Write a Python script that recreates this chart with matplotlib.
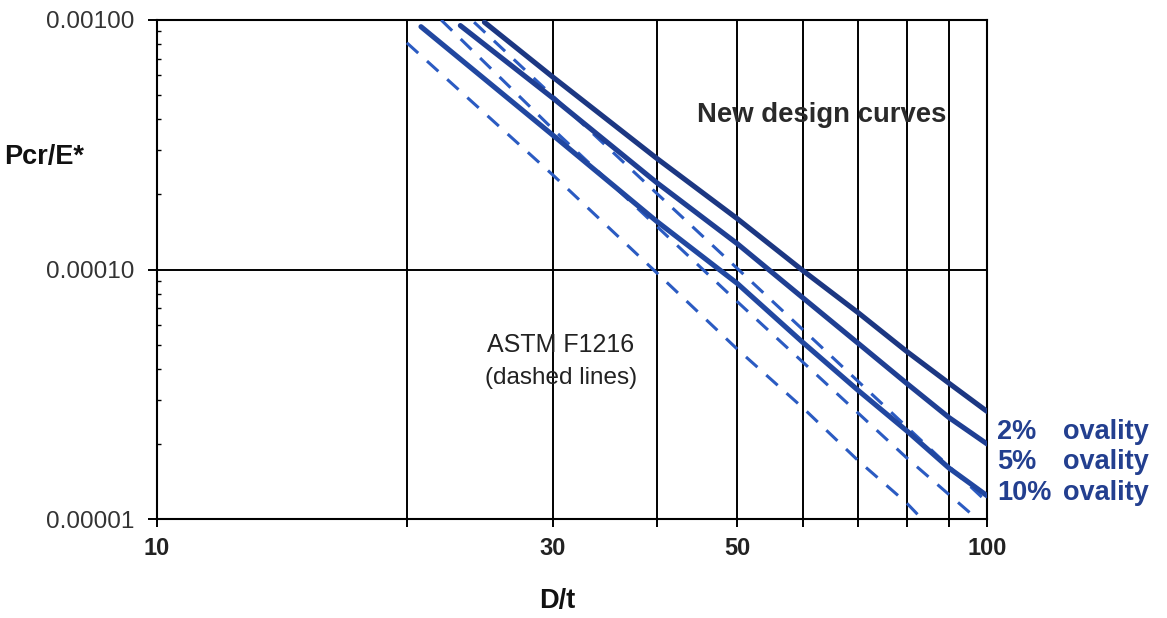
import matplotlib
matplotlib.use("Agg")
import matplotlib.pyplot as plt
from matplotlib.ticker import FixedLocator, FixedFormatter, NullLocator, LogLocator, NullFormatter

plt.rcParams['font.family'] = ['Liberation Sans', 'DejaVu Sans']

# New design curves (solid)
new_2_dt = [24.8, 30, 40, 50, 60, 70, 80, 90, 100]
new_2_p = [9.8e-4, 5.9e-4, 2.79e-4, 1.60e-4, 9.9e-5, 6.7e-5, 4.7e-5, 3.5e-5, 2.7e-5]

new_5_dt = [23.2, 30, 40, 50, 60, 70, 80, 90, 100]
new_5_p = [9.5e-4, 4.86e-4, 2.23e-4, 1.27e-4, 7.7e-5, 5.05e-5, 3.5e-5, 2.55e-5, 2.0e-5]

new_10_dt = [20.8, 30, 40, 50, 60, 70, 80, 90, 100]
new_10_p = [9.4e-4, 3.45e-4, 1.56e-4, 8.8e-5, 5.1e-5, 3.27e-5, 2.26e-5, 1.6e-5, 1.24e-5]

# ASTM F1216 curves (dashed)
astm_2_dt = [24.1, 40, 60, 100]
astm_2_p = [9.8e-4, 2.02e-4, 5.74e-5, 1.17e-5]

astm_5_dt = [22.0, 30, 50, 80, 97.3]
astm_5_p = [1.0e-3, 3.65e-4, 7.44e-5, 1.76e-5, 1.0e-5]

astm_10_dt = [20, 30, 40, 50, 60, 70, 80, 83.5]
astm_10_p = [8.1e-4, 2.39e-4, 9.7e-5, 4.8e-5, 2.79e-5, 1.71e-5, 1.16e-5, 1.0e-5]

x_ticks = [10, 20, 30, 40, 50, 60, 70, 80, 90, 100]
x_tick_labels = ["10", "", "30", "", "50", "", "", "", "", "100"]
y_ticks = [1e-5, 1e-4, 1e-3]
y_tick_labels = ["0.00001", "0.00010", "0.00100"]

W, H = 1167, 618
fig = plt.figure(figsize=(W / 100, H / 100), dpi=100)
ax = fig.add_axes([157 / W, 1 - 519 / H, (987 - 157) / W, (519 - 20) / H])

ax.set_xscale('log')
ax.set_yscale('log')
ax.set_xlim(10, 100)
ax.set_ylim(1e-5, 1e-3)

solid_dark = '#1c3782'
solid_mid = '#1f3f93'
solid_c = '#2147a0'
dash_col = '#2b5bc2'

ax.plot(new_2_dt, new_2_p, color=solid_dark, lw=3.7, solid_capstyle='round', zorder=4)
ax.plot(new_5_dt, new_5_p, color=solid_mid, lw=3.7, solid_capstyle='round', zorder=4)
ax.plot(new_10_dt, new_10_p, color=solid_c, lw=3.7, solid_capstyle='round', zorder=4)

dash = (0, (5.0, 3.9))
for dt, p in [(astm_2_dt, astm_2_p), (astm_5_dt, astm_5_p), (astm_10_dt, astm_10_p)]:
    ax.plot(dt, p, color=dash_col, lw=2.2, linestyle=dash, zorder=3)

# Axes, grid and ticks
ax.xaxis.set_major_locator(FixedLocator(x_ticks))
ax.xaxis.set_major_formatter(FixedFormatter(x_tick_labels))
ax.xaxis.set_minor_locator(NullLocator())
ax.yaxis.set_major_locator(FixedLocator(y_ticks))
ax.yaxis.set_major_formatter(FixedFormatter(y_tick_labels))
ax.yaxis.set_minor_locator(LogLocator(base=10, subs=range(2, 10)))
ax.yaxis.set_minor_formatter(NullFormatter())

ax.grid(True, which='major', color='black', lw=1.4, zorder=1)
for s in ax.spines.values():
    s.set_linewidth(1.5)
    s.set_color('black')

ax.tick_params(axis='x', which='major', direction='out', length=6, width=1.4,
               pad=7, labelsize=17, labelcolor='#222222')
ax.tick_params(axis='y', which='major', direction='out', length=6.5, width=1.4,
               pad=10, labelsize=17.5, labelcolor='#333333')
ax.tick_params(axis='y', which='minor', direction='in', length=3, width=1.0)
for lab in ax.get_xticklabels():
    lab.set_fontweight('bold')

# Axis titles
fig.text(44 / W, 1 - 157 / H, "Pcr/E*", fontsize=19.5, fontweight='bold',
         color='#111111', ha='center', va='center')
fig.text(557 / W, 1 - 601 / H, "D/t", fontsize=19.5, fontweight='bold',
         color='#111111', ha='center', va='center')

# Annotations
fig.text(697 / W, 1 - 115 / H, "New design curves", fontsize=19.8, fontweight='bold',
         color='#2a2a2a', ha='left', va='center')
fig.text(561 / W, 1 - 345 / H, "ASTM F1216", fontsize=18, 
         color='#222222', ha='center', va='center')
fig.text(561 / W, 1 - 378 / H, "(dashed lines)", fontsize=17.5,
         color='#222222', ha='center', va='center')

oval_col = '#233f8f'
for pct, ypx in [("2%", 432), ("5%", 462), ("10%", 493)]:
    fig.text(997 / W, 1 - ypx / H, pct, fontsize=19.5, fontweight='bold',
             color=oval_col, ha='left', va='center')
    fig.text(1063 / W, 1 - ypx / H, "ovality", fontsize=19.5, fontweight='bold',
             color=oval_col, ha='left', va='center')

fig.savefig("out.png", dpi=100, facecolor='white')
